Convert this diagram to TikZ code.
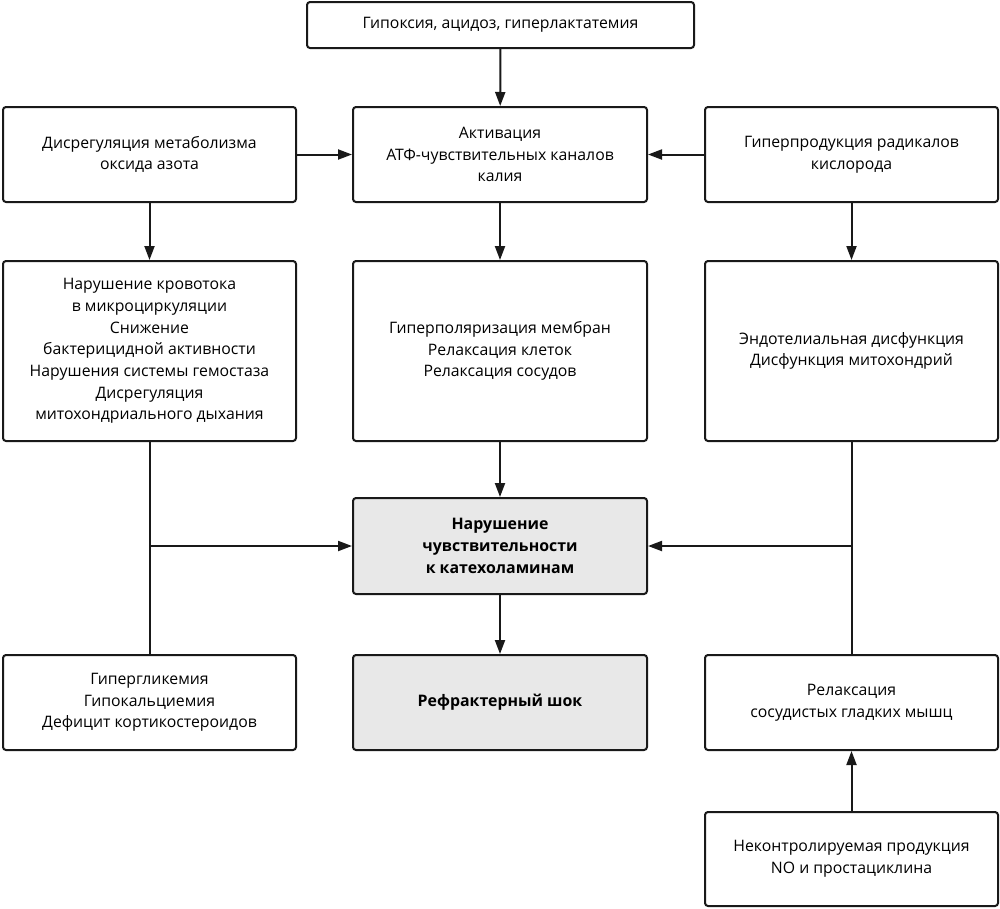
\documentclass[tikz,border=0pt]{standalone}
\usepackage{fontspec}
\setmainfont{Open Sans}
\usetikzlibrary{arrows.meta}
\tikzset{
  box/.style={draw=black!90, line width=2pt, rounded corners=3pt, fill=white, align=center,
    inner sep=0pt, font=\fontsize{15.8}{21.7}\selectfont},
  graybox/.style={box, fill=black!9, font=\fontsize{15.9}{21.7}\selectfont\bfseries},
  arr/.style={line width=2pt, draw=black!90, -{Triangle[length=14pt,width=10pt]}},
  ln/.style={line width=2pt, draw=black!90},
}
\begin{document}
\begin{tikzpicture}[x=1pt,y=-1pt]
\useasboundingbox (0,0) rectangle (1000,908);
\node[box, minimum width=387pt, minimum height=46pt] (top) at (500.5,25) {Гипоксия, ацидоз, гиперлактатемия};
\node[box, minimum width=293pt, minimum height=95pt] (l2) at (149.5,154.5) {Дисрегуляция метаболизма\\оксида азота};
\node[box, minimum width=294pt, minimum height=95pt] (c2) at (500,154.5) {Активация\\АТФ-чувствительных каналов\\калия};
\node[box, minimum width=293pt, minimum height=95pt] (r2) at (851.5,154.5) {Гиперпродукция радикалов\\кислорода};
\node[box, minimum width=293pt, minimum height=180pt] (l3) at (149.5,351) {Нарушение кровотока\\в микроциркуляции\\Снижение\\бактерицидной активности\\Нарушения системы гемостаза\\Дисрегуляция\\митохондриального дыхания};
\node[box, minimum width=294pt, minimum height=180pt] (c3) at (500,351) {Гиперполяризация мембран\\Релаксация клеток\\Релаксация сосудов};
\node[box, minimum width=293pt, minimum height=180pt] (r3) at (851.5,351) {Эндотелиальная дисфункция\\Дисфункция митохондрий};
\node[graybox, minimum width=294pt, minimum height=96pt] (c4) at (500,546) {Нарушение\\чувствительности\\к катехоламинам};
\node[box, minimum width=293pt, minimum height=95pt] (l5) at (149.5,702.5) {Гипергликемия\\Гипокальциемия\\Дефицит кортикостероидов};
\node[graybox, minimum width=294pt, minimum height=95pt] (c5) at (500,702.5) {Рефрактерный шок};
\node[box, minimum width=293pt, minimum height=95pt] (r5) at (851.5,702.5) {Релаксация\\сосудистых гладких мышц};
\node[box, minimum width=293pt, minimum height=94pt] (r6) at (851.5,859) {Неконтролируемая продукция\\NO и простациклина};
\draw[arr] (top) -- (c2);
\draw[arr] (l2) -- (c2);
\draw[arr] (r2) -- (c2);
\draw[arr] (l2) -- (l3);
\draw[arr] (c2) -- (c3);
\draw[arr] (r2) -- (r3);
\draw[arr] (c3) -- (c4);
\draw[arr] (c4) -- (c5);
\draw[arr] (r6) -- (r5);
\draw[ln] (l3.south) -- (l5.north);
\draw[ln] (r3.south) -- (r5.north);
\coordinate (jl) at (l3.south |- c4.west);
\coordinate (jr) at (r3.south |- c4.east);
\draw[arr] (jl) -- (c4.west);
\draw[arr] (jr) -- (c4.east);
\end{tikzpicture}
\end{document}
